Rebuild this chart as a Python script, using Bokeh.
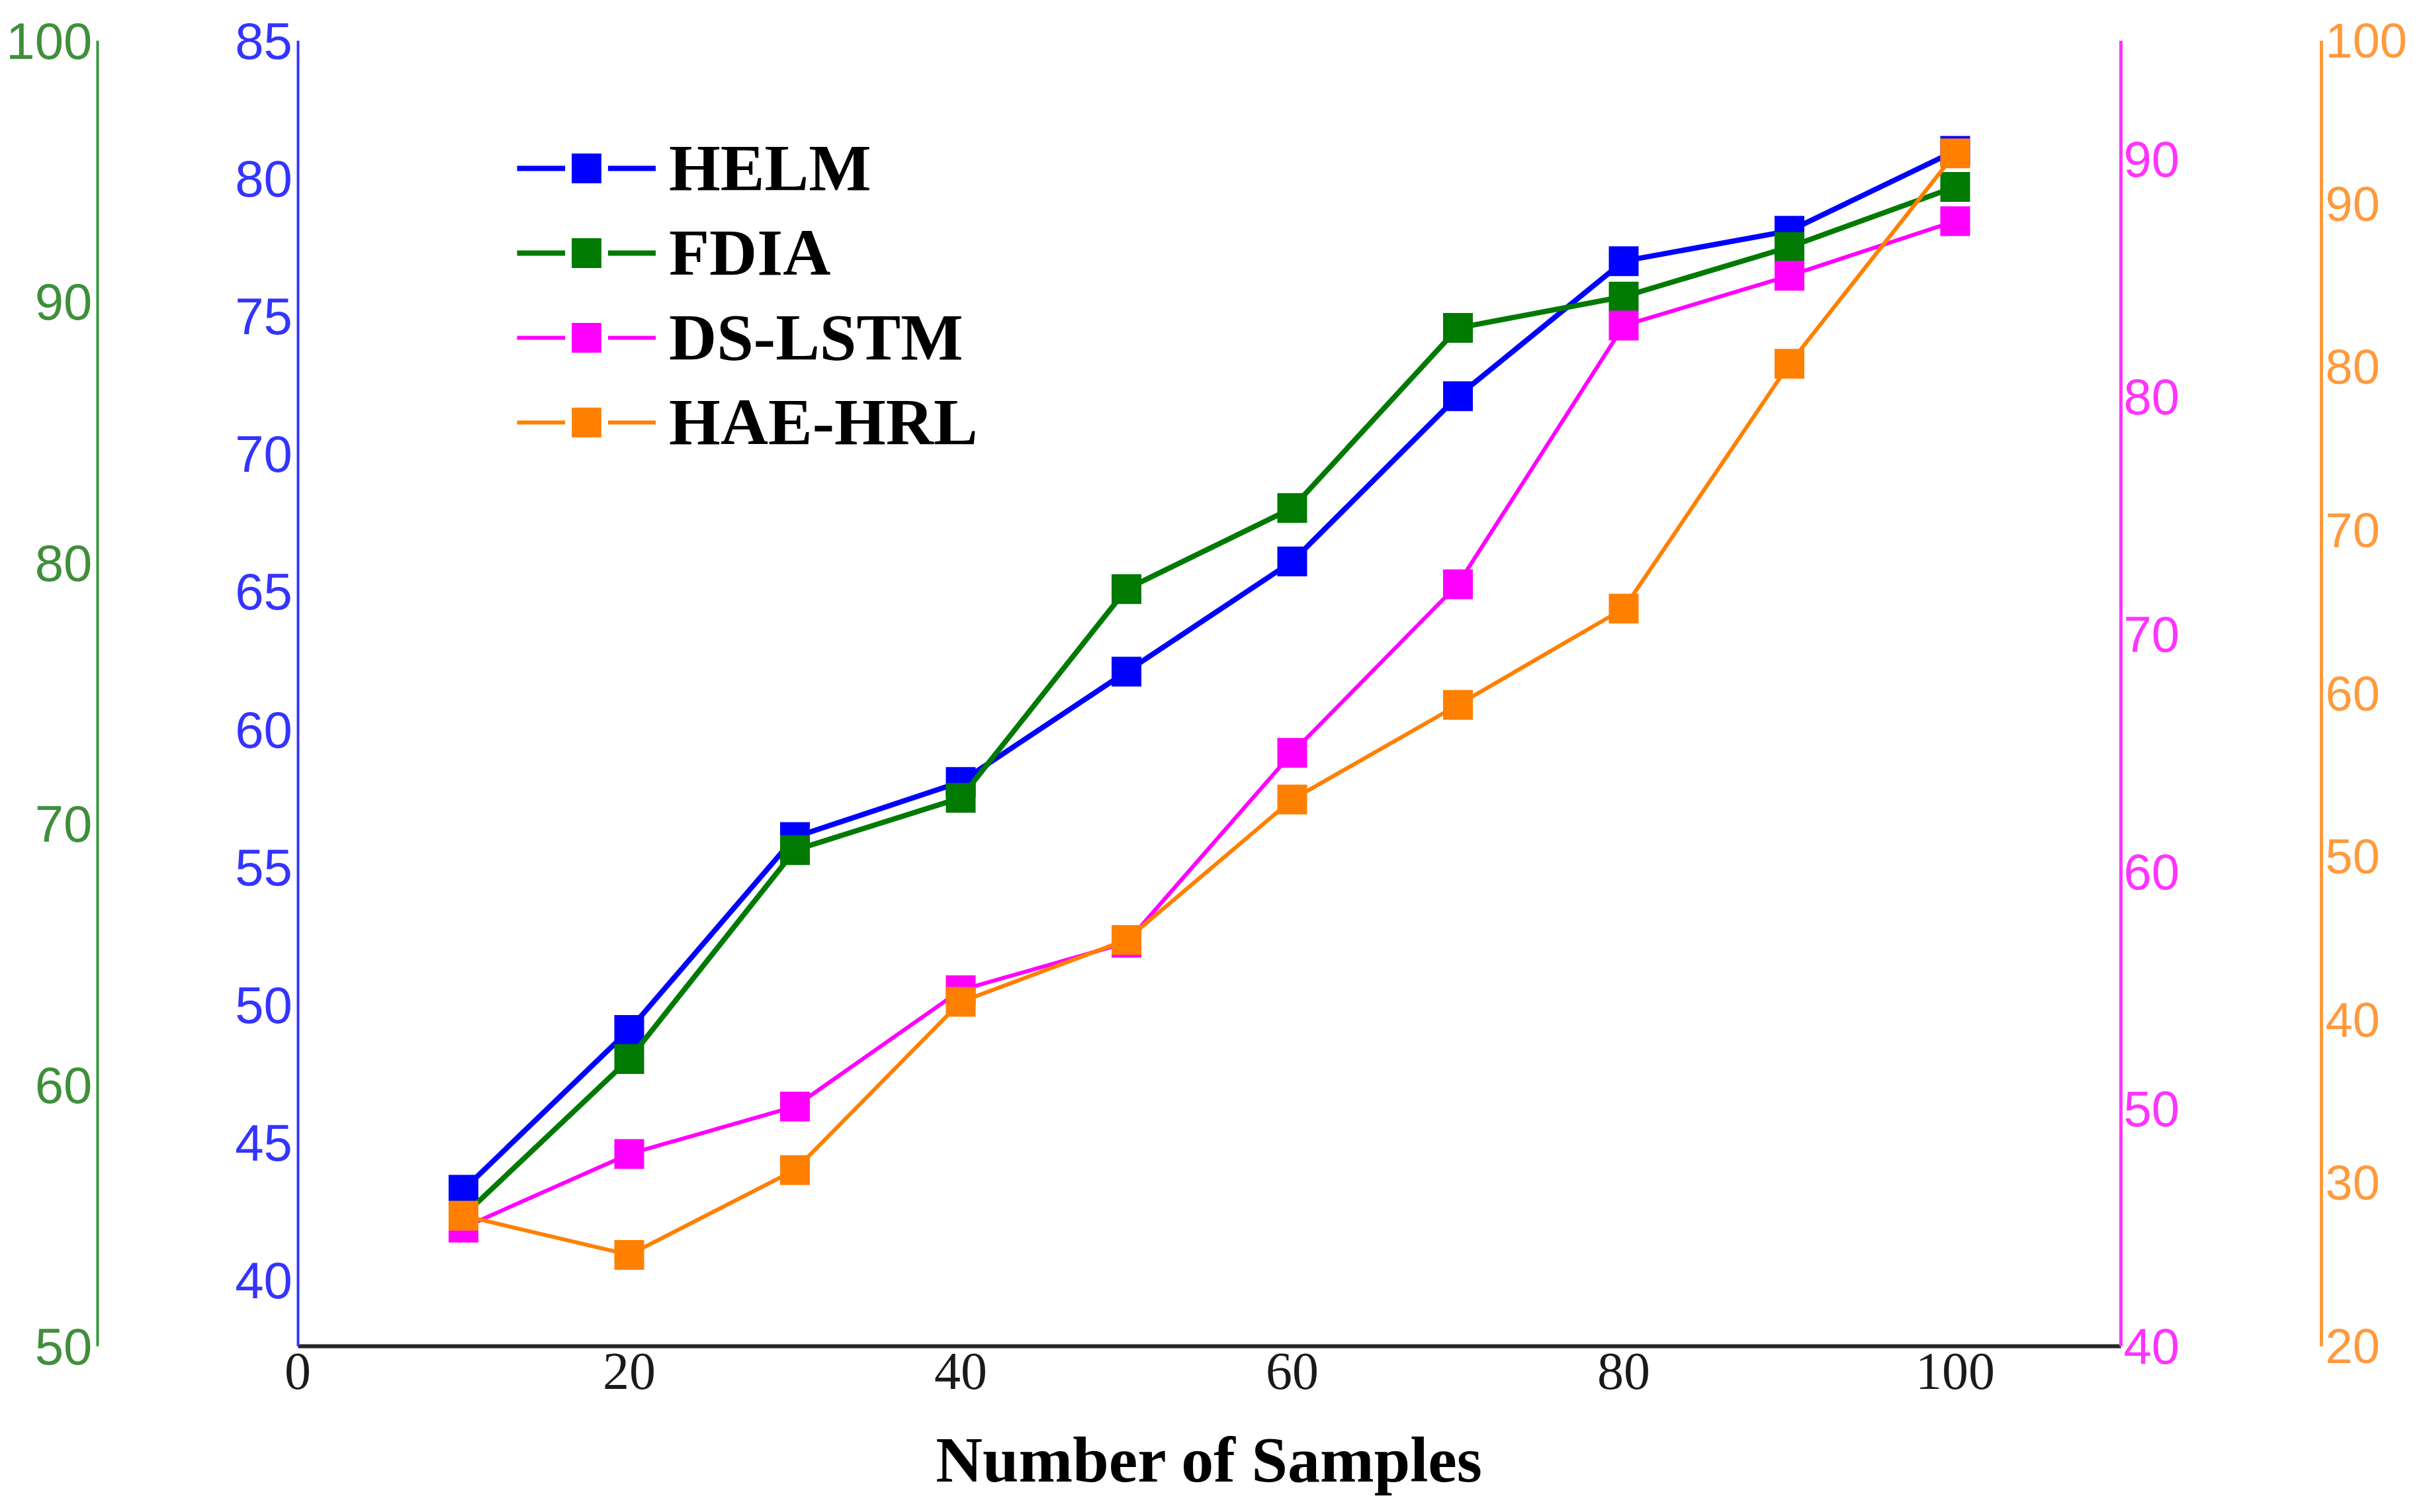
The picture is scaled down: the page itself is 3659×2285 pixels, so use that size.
from bokeh.plotting import figure
from bokeh.models import LinearAxis, Range1d, FixedTicker, Legend, LegendItem
from bokeh.embed import file_html
from bokeh.resources import INLINE

# ---------------- data ----------------
samples = [10, 20, 30, 40, 50, 60, 70, 80, 90, 100]
helm = [43.3, 49.1, 56.1, 58.1, 62.1, 66.1, 72.1, 77.0, 78.1, 81.0]      # blue axis (37.6-85)
fdia = [55.0, 61.0, 69.0, 71.0, 79.0, 82.1, 89.0, 90.2, 92.1, 94.4]      # green axis (50-100)
ds_lstm = [45.0, 48.1, 50.1, 55.0, 57.0, 65.0, 72.1, 83.0, 85.1, 87.4]   # magenta axis (40-95)
hae_hrl = [28.0, 25.6, 30.8, 41.1, 44.9, 53.5, 59.3, 65.2, 80.2, 93.1]   # orange axis (20-100)

x_ticks = [0, 20, 40, 60, 80, 100]
helm_ticks = [40, 45, 50, 55, 60, 65, 70, 75, 80, 85]
fdia_ticks = [50, 60, 70, 80, 90, 100]
ds_ticks = [40, 50, 60, 70, 80, 90]
hae_ticks = [20, 30, 40, 50, 60, 70, 80, 90, 100]

x_extent = (0, 110)
helm_extent = (37.62, 85)
fdia_extent = (50, 100)
ds_extent = (40, 95)
hae_extent = (20, 100)

series_names = ["HELM", "FDIA", "DS-LSTM", "HAE-HRL"]

# ---------------- layout constants ----------------
W, H = 3643, 2262
AX_TOP, AX_BOT = 61, 2034      # pixel rows of the axis-line ends
X0_PX, X110_PX = 449.5, 3205.0 # pixel columns of x = 0 and x = 110

ppx = (X110_PX - X0_PX) / (x_extent[1] - x_extent[0])
x_start = x_extent[0] - X0_PX / ppx
x_end = x_start + W / ppx
GREEN_LOC = x_start + 147 / ppx
ORANGE_LOC = x_start + 3508 / ppx

def full_range(ext):
    lo, hi = ext
    ppu = (AX_BOT - AX_TOP) / (hi - lo)
    return Range1d(lo - (H - AX_BOT) / ppu, hi + AX_TOP / ppu)

C_BLUE, C_GREEN, C_MAG, C_ORG = "#0000FF", "#007A00", "#FF00FF", "#FF8000"
A_BLUE, A_GREEN, A_MAG, A_ORG = "#3434FF", "#3A963A", "#FF33FF", "#FF9A3C"

p = figure(width=W, height=H, output_backend="svg", toolbar_location=None,
           x_range=Range1d(x_start, x_end), y_range=full_range(helm_extent),
           x_axis_location=None, y_axis_location=None,
           min_border_left=0, min_border_right=0,
           min_border_top=0, min_border_bottom=0)
p.extra_y_ranges = {"fdia": full_range(fdia_extent), "ds": full_range(ds_extent),
                    "hae": full_range(hae_extent)}
p.outline_line_color = None
p.background_fill_color = "white"
p.border_fill_color = "white"
p.grid.visible = False

def y_axis(range_name, loc, ticks, ext, line_c, text_c, standoff, lw, size):
    kw = {}
    if range_name is not None:
        kw["y_range_name"] = range_name
    ax = LinearAxis(fixed_location=loc, ticker=FixedTicker(ticks=ticks), bounds=ext, **kw)
    ax.axis_line_color = line_c
    ax.axis_line_width = lw
    ax.major_tick_line_color = None
    ax.minor_tick_line_color = None
    ax.major_label_text_color = text_c
    ax.major_label_text_font = "Liberation Sans"
    ax.major_label_text_font_size = size
    ax.major_label_standoff = standoff
    ax.major_label_text_baseline = "alphabetic"
    return ax

p.add_layout(y_axis("fdia", GREEN_LOC, fdia_ticks, fdia_extent, A_GREEN, "#3F8F3A", 2, 4, "78px"), "left")
p.add_layout(y_axis(None, 0, helm_ticks, helm_extent, A_BLUE, A_BLUE, 2, 4, "78px"), "left")
p.add_layout(y_axis("ds", x_extent[1], ds_ticks, ds_extent, A_MAG, A_MAG, -2, 5, "76px"), "right")
p.add_layout(y_axis("hae", ORANGE_LOC, hae_ticks, hae_extent, A_ORG, A_ORG, 0, 5, "74px"), "right")

xax = LinearAxis(fixed_location=helm_extent[0], ticker=FixedTicker(ticks=x_ticks), bounds=x_extent)
xax.axis_line_color = "#262626"
xax.axis_line_width = 6
xax.major_tick_line_color = None
xax.minor_tick_line_color = None
xax.major_label_text_font = "Liberation Serif"
xax.major_label_text_font_size = "80px"
xax.major_label_text_color = "#1a1a1a"
xax.major_label_standoff = 5
xax.axis_label = "Number of Samples"
xax.axis_label_text_font = "Liberation Serif"
xax.axis_label_text_font_style = "bold"
xax.axis_label_text_font_size = "98px"
xax.axis_label_text_color = "#000000"
xax.axis_label_standoff = 50
p.add_layout(xax, "below")

items = []
specs = [(helm, "default", C_BLUE, 8), (fdia, "fdia", C_GREEN, 8),
         (ds_lstm, "ds", C_MAG, 6), (hae_hrl, "hae", C_ORG, 6)]
for name, (vals, rn, col, lw) in zip(series_names, specs):
    ln = p.line(samples, vals, y_range_name=rn, line_color=col, line_width=lw)
    # hidden in the plot; only its legend glyph is drawn, opening a gap around the marker
    gap = p.scatter(samples, vals, y_range_name=rn, marker="square", size=45,
                    fill_color="white", line_color="white", line_width=20, visible=False)
    sc = p.scatter(samples, vals, y_range_name=rn, marker="square", size=45,
                   fill_color=col, line_color=col, line_width=0)
    items.append(LegendItem(label=name, renderers=[ln, gap, sc]))

legend = Legend(items=items, location=(781, 1567), orientation="vertical",
                glyph_width=210, glyph_height=112, label_height=112,
                spacing=13, padding=0, margin=0, label_standoff=20,
                label_text_font="Liberation Serif", label_text_font_style="bold",
                label_text_font_size="100px", label_text_color="#000000",
                border_line_color=None, background_fill_alpha=0)
p.add_layout(legend)

open("out.html", "w").write(file_html(p, INLINE))
